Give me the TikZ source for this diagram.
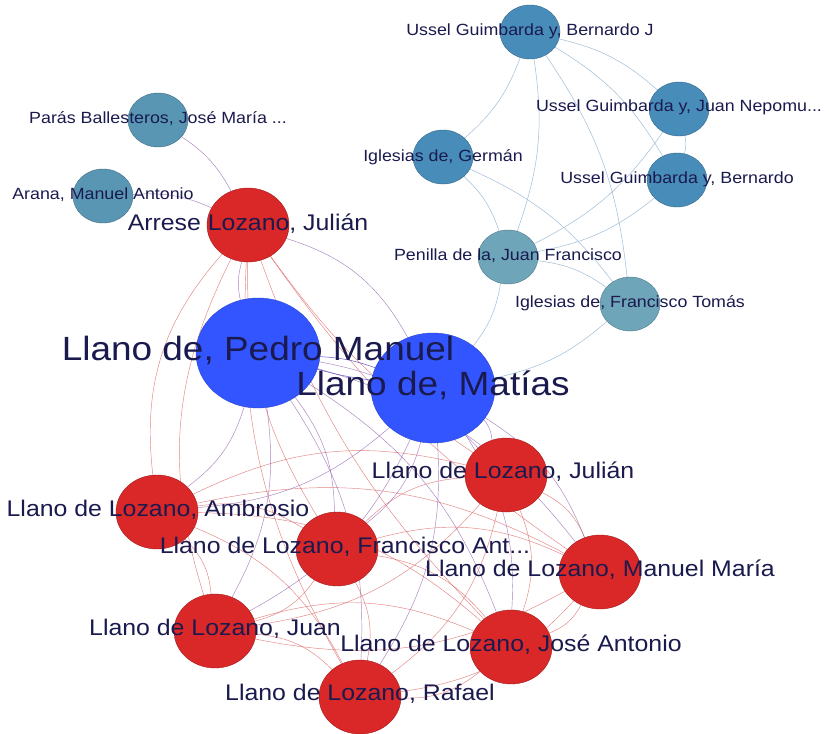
\documentclass[tikz,border=0pt]{standalone}
\usepackage{fontspec}
\setmainfont{Liberation Sans}
\newfontfamily\labfont[FakeStretch=1.1]{Liberation Sans}
\usetikzlibrary{shapes.geometric}
\pgfdeclarelayer{edges}
\pgfdeclarelayer{paper}
\pgfdeclarelayer{fg}
\pgfsetlayers{paper,edges,main,fg}
\definecolor{navy}{RGB}{26,26,78}
\definecolor{cA}{RGB}{72,140,185}
\definecolor{cB}{RGB}{88,150,180}
\definecolor{cC}{RGB}{110,165,185}
\definecolor{cR}{RGB}{218,40,40}
\definecolor{cBig}{RGB}{51,85,255}
\definecolor{eR}{RGB}{220,90,90}
\definecolor{eP}{RGB}{140,90,170}
\definecolor{eB}{RGB}{160,190,215}
\begin{document}
\begin{tikzpicture}[x=1pt,y=-1pt,
  sm/.style={ellipse,minimum width=60pt,minimum height=54pt,inner sep=0pt,draw=#1!75!black,line width=0.4pt,fill=#1},
  rd/.style={ellipse,minimum width=82pt,minimum height=74pt,inner sep=0pt,draw=cR!75!black,line width=0.4pt,fill=cR},
  bignode/.style={ellipse,minimum width=124pt,minimum height=110pt,inner sep=0pt,draw=cBig!80!black,line width=0.4pt,fill=cBig},
  lsm/.style={text=navy,inner sep=0pt,font=\labfont\fontsize{16.2}{18}\selectfont},
  lrd/.style={text=navy,inner sep=0pt,font=\labfont\fontsize{22.6}{25}\selectfont},
  lbg/.style={text=navy,inner sep=0pt,font=\labfont\fontsize{33.6}{37}\selectfont},
  rr/.style={draw=eR,line width=0.45pt,opacity=0.75},
  br/.style={draw=eP,line width=0.45pt,opacity=0.75},
  bb/.style={draw=eB,line width=0.5pt},
]
\useasboundingbox (0,0) rectangle (829,733);
\begin{pgfonlayer}{paper}
\fill[white] (0,0) rectangle (829,733);
\end{pgfonlayer}

% nodes
\node[sm=cA] (UBJ) at (530,32) {};
\node[sm=cA] (UJN) at (679,109) {};
\node[sm=cA] (UB) at (677,180) {};
\node[sm=cA] (IG) at (443,157) {};
\node[sm=cC] (PJF) at (508,257) {};
\node[sm=cC] (IFT) at (630,304) {};
\node[sm=cB] (PB) at (158,120) {};
\node[sm=cB] (AMA) at (103,196) {};
\node[rd] (ALJ) at (248,225) {};
\node[bignode] (LPM) at (258,353) {};
\node[bignode] (LM) at (433,388) {};
\node[rd] (LLJ) at (506,475) {};
\node[rd] (Amb) at (157,512) {};
\node[rd] (FA) at (337,549) {};
\node[rd] (MM) at (600,572) {};
\node[rd] (LJ) at (215,631) {};
\node[rd] (JA) at (511,647) {};
\node[rd] (R) at (360,697) {};

% edges
\begin{pgfonlayer}{edges}
\foreach \a/\b in {UBJ/IG,UBJ/PJF,UBJ/IFT,UBJ/UB,UBJ/UJN,UJN/UB,UJN/PJF,UB/PJF,IG/PJF,IG/IFT,PJF/IFT,PJF/LM,IFT/LM}
  \draw[bb] (\a) to[bend left=14] (\b);
\foreach \a/\b in {PB/ALJ,AMA/ALJ}
  \draw[br] (\a) to[bend left=14] (\b);
\draw[br] (ALJ) to[bend left=22] (LM);
\foreach \b/\k in {Amb/24,LJ/22,FA/16,R/16,JA/12,LLJ/10,MM/10}
  \draw[rr] (ALJ) to[bend right=\k] (\b);
\draw[br] (ALJ) to[bend right=14] (LPM);
\foreach \a [count=\i] in {Amb,FA,LLJ,MM,LJ,JA,R}{
  \foreach \b [count=\j] in {Amb,FA,LLJ,MM,LJ,JA,R}{
    \ifnum\i<\j \draw[rr] (\a) to[bend left=20] (\b); \fi
  }
}
\foreach \a in {LPM,LM}
  \foreach \b in {Amb,FA,LLJ,MM,LJ,JA,R}
    \draw[br] (\a) to[bend left=18] (\b);
\draw[bb,draw=eP!60!cBig] (LPM) to[bend left=8] (LM);
\draw[bb,draw=eP!60!cBig] (LPM) to[bend right=4] (LM);
\end{pgfonlayer}

% labels
\begin{pgfonlayer}{fg}
\node[lsm] (tUBJ) at (530,31) {Ussel Guimbarda y, Bernardo J};
\node[lsm] (tUJN) at (679,107) {Ussel Guimbarda y, Juan Nepomu...};
\node[lsm] (tUB) at (677,179) {Ussel Guimbarda y, Bernardo};
\node[lsm] (tIG) at (443,157) {Iglesias de, Germán};
\node[lsm] (tPJF) at (508,256) {Penilla de la, Juan Francisco};
\node[lsm] (tIFT) at (630,303) {Iglesias de, Francisco Tomás};
\node[lsm] (tPB) at (158,119) {Parás Ballesteros, José María ...};
\node[lsm] (tAMA) at (103,195) {Arana, Manuel Antonio};
\node[lrd] (tALJ) at (248,224) {Arrese Lozano, Julián};
\node[lbg] (tLPM) at (258,350) {Llano de, Pedro Manuel};
\node[lbg] (tLM) at (433,385) {Llano de, Matías};
\node[lrd] (tLLJ) at (503,472) {Llano de Lozano, Julián};
\node[lrd] (tAmb) at (158,510) {Llano de Lozano, Ambrosio};
\node[lrd] (tFA) at (345,547) {Llano de Lozano, Francisco Ant...};
\node[lrd] (tMM) at (600,570) {Llano de Lozano, Manuel María};
\node[lrd] (tLJ) at (215,629) {Llano de Lozano, Juan};
\node[lrd] (tJA) at (511,645) {Llano de Lozano, José Antonio};
\node[lrd] (tR) at (360,694) {Llano de Lozano, Rafael};
\end{pgfonlayer}
\end{tikzpicture}
\end{document}
